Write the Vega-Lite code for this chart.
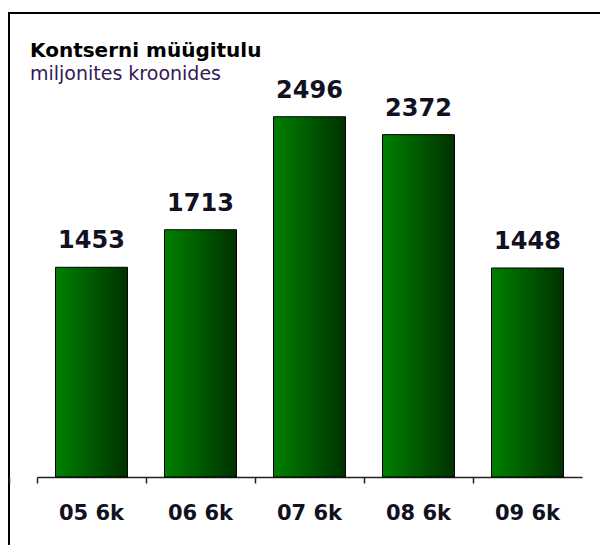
{
  "$schema": "https://vega.github.io/schema/vega-lite/v6.json",
  "width": 592,
  "height": 533,
  "autosize": {"type": "none"},
  "padding": {"left": 9, "top": 13, "right": -1, "bottom": -1},
  "background": "white",
  "config": {
    "view": {"stroke": "black", "strokeWidth": 2, "fill": "white"},
    "font": "DejaVu Sans"
  },
  "title": {
    "text": "Kontserni müügitulu",
    "subtitle": "miljonites kroonides",
    "anchor": "start",
    "frame": "group",
    "orient": "top",
    "offset": -71,
    "dx": 21,
    "font": "DejaVu Sans",
    "fontSize": 20,
    "fontWeight": "bold",
    "color": "black",
    "subtitleFont": "DejaVu Sans",
    "subtitleFontSize": 19,
    "subtitleColor": "#331a55",
    "subtitlePadding": 4
  },
  "data": {
    "values": [
      {"period": "05 6k", "value": 1453},
      {"period": "06 6k", "value": 1713},
      {"period": "07 6k", "value": 2496},
      {"period": "08 6k", "value": 2372},
      {"period": "09 6k", "value": 1448}
    ]
  },
  "encoding": {
    "x": {
      "field": "period",
      "type": "nominal",
      "sort": null,
      "scale": {"range": [28, 573], "paddingInner": 0, "paddingOuter": 0},
      "axis": {
        "title": null,
        "labelAngle": 0,
        "offset": -69,
        "bandPosition": 0,
        "tickExtra": true,
        "tickSize": 6,
        "tickColor": "#222",
        "tickWidth": 1.5,
        "domainColor": "#222",
        "domainWidth": 1.5,
        "labelFont": "DejaVu Sans",
        "labelFontSize": 21,
        "labelFontWeight": "bold",
        "labelColor": "#111122",
        "labelPadding": 19,
        "labelBound": false
      }
    },
    "y": {
      "field": "value",
      "type": "quantitative",
      "scale": {"domain": [0, 3000], "range": [464, 31], "nice": false},
      "axis": null
    }
  },
  "layer": [
    {
      "mark": {
        "type": "bar",
        "width": {"band": 0.66},
        "stroke": "black",
        "strokeWidth": 1,
        "color": {
          "gradient": "linear",
          "x1": 0, "x2": 1, "y1": 0, "y2": 0,
          "stops": [
            {"offset": 0, "color": "#008000"},
            {"offset": 1, "color": "#003200"}
          ]
        }
      }
    },
    {
      "mark": {
        "type": "text",
        "baseline": "alphabetic",
        "dy": -19,
        "font": "DejaVu Sans",
        "fontSize": 24,
        "fontWeight": "bold",
        "color": "#111122"
      },
      "encoding": {"text": {"field": "value", "type": "quantitative", "format": "d"}}
    }
  ]
}
